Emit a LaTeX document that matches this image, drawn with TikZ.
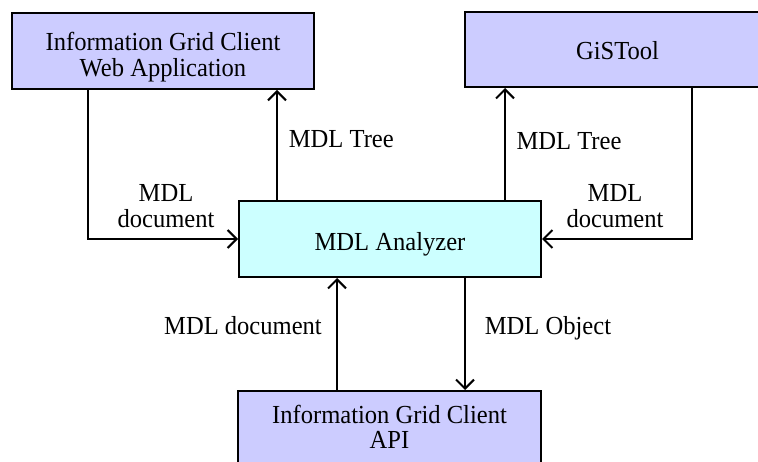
\documentclass[tikz,border=0pt]{standalone}
\usepackage{fontspec}
\setmainfont{Liberation Serif}[FakeStretch=0.945]
\usetikzlibrary{arrows.meta}
\definecolor{boxblue}{HTML}{CCCCFF}
\definecolor{boxcyan}{HTML}{CCFFFF}
\newcommand{\stacked}[1]{\begin{tabular}[t]{@{}c@{}}#1\end{tabular}}
\tikzset{
  textfont/.style={font=\fontsize{26}{25}\selectfont},
  block/.style={draw=black, line width=2pt, rectangle, inner sep=0pt, textfont},
  client/.style={block, fill=boxblue},
  core/.style={block, fill=boxcyan},
  lbl/.style={inner sep=0pt, anchor=base, textfont},
  link/.style={line width=2pt, -{Straight Barb[length=9pt,width=18pt,line width=2pt]}},
}
\begin{document}
\begin{tikzpicture}[x=1pt,y=-1pt]
\useasboundingbox (0,0) rectangle (758,462);
% components
\node[client, minimum width=302pt, minimum height=76pt, text height=12pt, text depth=12pt]
  (web) at (163,51) {\stacked{Information Grid Client\\Web Application}};
\node[client, minimum width=305pt, minimum height=75pt, text height=21pt, text depth=0pt]
  (gis) at (617.5,49.5) {GiSTool};
\node[core, minimum width=302pt, minimum height=76pt, text height=24pt, text depth=0pt]
  (ana) at (390,239) {MDL Analyzer};
\node[client, minimum width=303pt, minimum height=76pt, text height=6pt, text depth=18pt]
  (api) at (389.5,429) {\stacked{Information Grid Client\\API}};
% data flows
\draw[link] ([xshift=-75pt]web.south) |- (ana.west);
\draw[link] ([xshift=-113pt]ana.north) -- ([xshift=-113pt]ana.north |- web.south);
\draw[link] ([xshift=115pt]ana.north) -- ([xshift=115pt]ana.north |- gis.south);
\draw[link] ([xshift=74.5pt]gis.south) |- (ana.east);
\draw[link] ([xshift=-52.5pt]api.north) -- ([xshift=-52.5pt]api.north |- ana.south);
\draw[link] ([xshift=75pt]ana.south) -- ([xshift=75pt]ana.south |- api.north);
% flow labels
\node[lbl] (treeL) at (341.3,147.5) {MDL Tree};
\node[lbl] (treeR) at (569,149.5) {MDL Tree};
\node[lbl] (docL) at (166,201.7) {\stacked{MDL\\document}};
\node[lbl] (docR) at (615,201.7) {\stacked{MDL\\document}};
\node[lbl] (docB) at (243,335) {MDL document};
\node[lbl] (objB) at (548,335) {MDL Object};
\end{tikzpicture}
\end{document}
